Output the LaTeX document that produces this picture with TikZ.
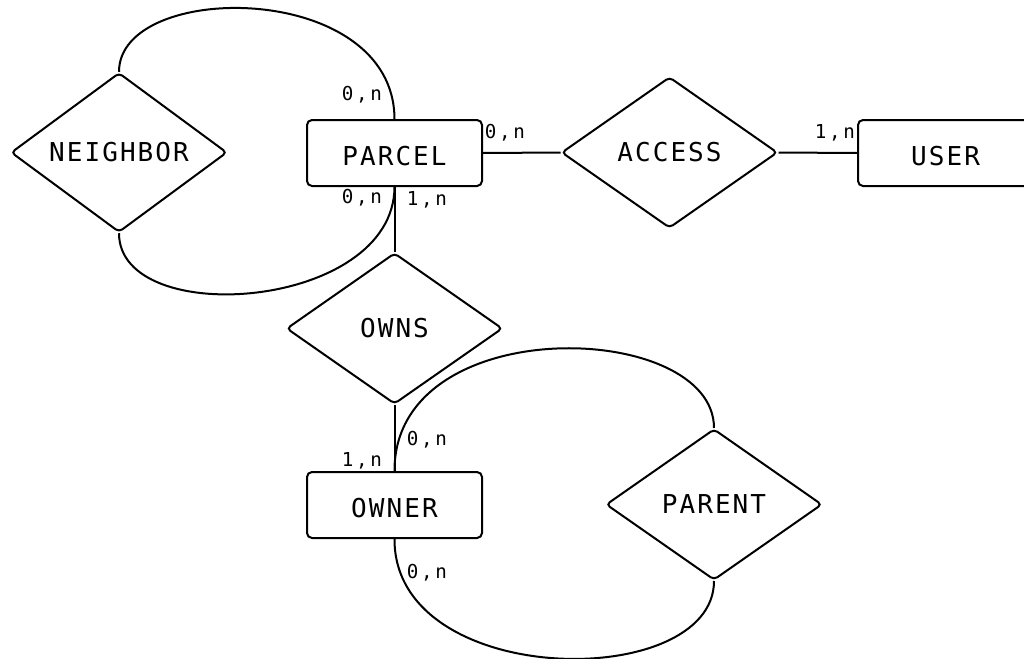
\documentclass[tikz,border=0pt]{standalone}
\usepackage{fontspec}
\newfontfamily\erfont[LetterSpace=8]{DejaVu Sans Mono}
\newfontfamily\cardfont[LetterSpace=14]{DejaVu Sans Mono}
\usetikzlibrary{shapes.geometric}

\tikzset{
    entity/.style={draw, line width=1pt, rounded corners=2.5pt, rectangle,
        minimum width=87.5pt, minimum height=33pt, inner sep=0pt,
        text height=12.2pt, text depth=0pt,
        font=\erfont\fontsize{13}{15}\selectfont},
    relation/.style={draw, line width=1pt, rounded corners=2pt, diamond,
        minimum width=108pt, minimum height=75.5pt, inner sep=0pt,
        font=\erfont\fontsize{13}{15}\selectfont},
    card/.style={inner sep=0pt, font=\cardfont\fontsize{9.6}{11}\selectfont},
    link/.style={line width=1pt},
}

\begin{document}
\begin{tikzpicture}[x=0.5pt, y=-0.5pt]
        \useasboundingbox (0,0) rectangle (1024,659);

        % entities
        \node[entity] (parcel) at (394.5,153) {PARCEL};
        \node[entity] (user) at (945.5,153) {USER};
        \node[entity] (owner) at (394.5,505) {OWNER};

        % relations
        \node[relation] (neighbor) at (119,152.5) {NEIGHBOR};
        \node[relation] (access) at (669.5,152.5) {ACCESS};
        \node[relation] (owns) at (394.5,328.5) {OWNS};
        \node[relation] (parent) at (714,504.5) {PARENT};

        % straight links
        \draw[link] (parcel.east) -- (access.west);
        \draw[link] (access.east) -- (user.west);
        \draw[link] (parcel.south) -- (owns.north);
        \draw[link] (owns.south) -- (owner.north);

        % loops
        \draw[link] (neighbor.north) .. controls (119,-20) and (394,-20) .. (parcel.north);
        \draw[link] (neighbor.south) .. controls (119,330) and (394,310) .. (parcel.south);
        \draw[link] (owner.north) .. controls (394,310) and (714,320) .. (parent.north);
        \draw[link] (owner.south) .. controls (394,690) and (714,692) .. (parent.south);

        % cardinalities
        \node[card] (cNeighborTop) at (362,95) {0,n};
        \node[card] (cParcelAccess) at (505,133) {0,n};
        \node[card] (cUserAccess) at (835,133) {1,n};
        \node[card] (cNeighborBottom) at (362,198) {0,n};
        \node[card] (cParcelOwns) at (427,200) {1,n};
        \node[card] (cOwnerOwns) at (362,461) {1,n};
        \node[card] (cOwnerParentTop) at (427,440) {0,n};
        \node[card] (cOwnerParentBottom) at (427,573) {0,n};
    \end{tikzpicture}
\end{document}
